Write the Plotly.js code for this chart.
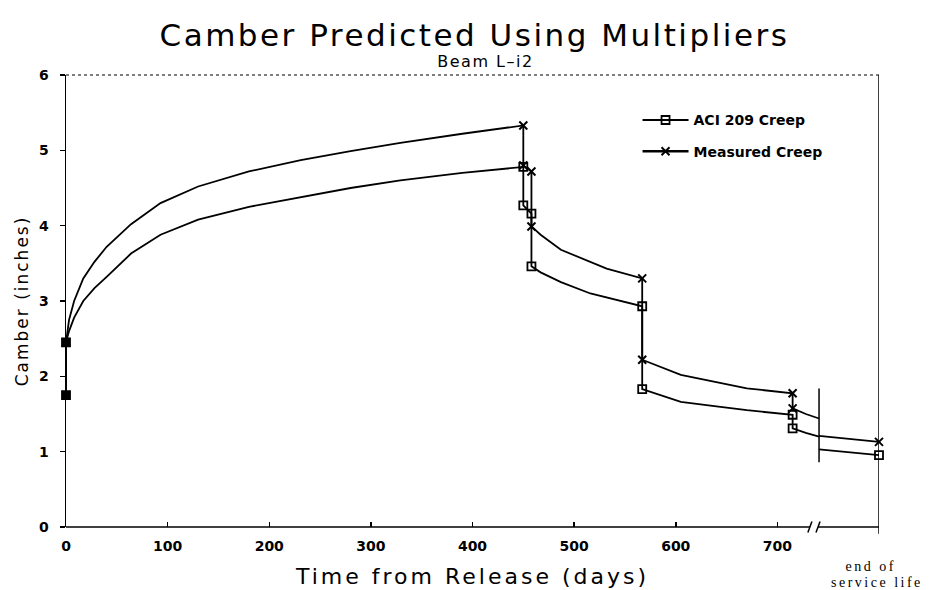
<!DOCTYPE html>
<html>
<head>
<meta charset="utf-8">
<script src="https://cdn.plot.ly/plotly-3.0.1.min.js"></script>
<style>html,body{margin:0;padding:0;background:#fff;}#chart{width:933px;height:590px;}</style>
</head>
<body>
<div id="chart"></div>
<script>
// ---- data (days from release, camber in inches) ----
const aciDays = [0,0,3,8,17,28,40,64,93,130,180,231,280,329,390,450,450,458,458,467,487,516,548,567,567,605,640,670,715,715,728,741,null,741,770,800];
const aciCamber = [1.75,2.45,2.6,2.78,3.0,3.17,3.32,3.63,3.88,4.08,4.25,4.38,4.50,4.60,4.70,4.78,4.27,4.16,3.46,3.38,3.25,3.10,2.99,2.93,1.83,1.66,1.60,1.55,1.49,1.31,1.25,1.20,null,1.03,0.99,0.955];
const measDays = [0,0,3,8,17,28,40,64,93,130,180,231,280,329,390,450,450,458,458,467,487,532,567,567,605,640,670,715,715,728,741,null,741,770,800];
const measCamber = [1.75,2.45,2.75,3.0,3.3,3.52,3.72,4.02,4.30,4.52,4.72,4.87,4.99,5.10,5.22,5.33,4.80,4.72,3.99,3.88,3.68,3.43,3.30,2.22,2.02,1.92,1.84,1.775,1.575,1.50,1.44,null,1.21,1.17,1.13];
// points where symbols are plotted
const aciMarkDays = [0,0,450,450,458,458,567,567,715,715,800];
const aciMarkCamber = [1.75,2.45,4.78,4.27,4.16,3.46,2.93,1.83,1.49,1.31,0.955];
const measMarkDays = [0,0,450,450,458,458,567,567,715,715,800];
const measMarkCamber = [1.75,2.45,5.33,4.80,4.72,3.99,3.30,2.22,1.775,1.575,1.13];
// axis
const xTickVals = [0,100,200,300,400,500,600,700];
const xTickText = ['0','100','200','300','400','500','600','700'];
const yTickVals = [0,1,2,3,4,5,6];
const endOfLifeDay = 800;
const breakDay = 741;
const breakSpan = [0.86,1.84];
const axisBreakDay = 736;
const seriesNames = ['ACI 209 Creep','Measured Creep'];
const titleText = 'Camber Predicted Using Multipliers';
const subtitleText = 'Beam L\u2013i2';
const endLabel = ['end of','service life'];

const LINE = {color:'#000', width:1.8};
const FONT = 'DejaVu Sans, sans-serif';
const traces = [
  {x:aciDays, y:aciCamber, mode:'lines', line:LINE, showlegend:false, connectgaps:false, cliponaxis:false, hoverinfo:'skip'},
  {x:measDays, y:measCamber, mode:'lines', line:LINE, showlegend:false, connectgaps:false, cliponaxis:false, hoverinfo:'skip'},
  {x:aciMarkDays, y:aciMarkCamber, mode:'markers', showlegend:false, cliponaxis:false,
   marker:{symbol:aciMarkDays.map(d=>d===0?'square':'square-open'), size:8, color:'#000', line:{color:'#000', width:1.8}}},
  {x:measMarkDays, y:measMarkCamber, mode:'markers', showlegend:false, cliponaxis:false,
   marker:{symbol:'x-thin', size:8, color:'#000', line:{color:'#000', width:2}}},
  {x:[null], y:[null], mode:'lines+markers', name:seriesNames[0], legendgroup:'a', line:LINE,
   marker:{symbol:'square-open', size:8, color:'#000', line:{color:'#000', width:1.8}}},
  {x:[null], y:[null], mode:'lines+markers', name:seriesNames[1], legendgroup:'b', line:{color:'#000', width:2.6},
   marker:{symbol:'x-thin', size:8, color:'#000', line:{color:'#000', width:2}}}
];

const layout = {
  width:933, height:590,
  margin:{l:66, r:54, t:75, b:63},
  paper_bgcolor:'#fff', plot_bgcolor:'#fff',
  font:{family:FONT, color:'#000'},
  xaxis:{range:[0,endOfLifeDay], tickvals:xTickVals, ticktext:xTickText, ticks:'inside', ticklen:5, tickwidth:1.5, tickcolor:'#000',
         showline:false, zeroline:false, showgrid:false, ticklabelstandoff:9,
         tickfont:{size:14, family:FONT, weight:'bold'},
         title:{text:'Time from Release (days)', font:{size:22, family:FONT}, standoff:15}},
  yaxis:{range:[0,6], tickvals:yTickVals, ticks:'outside', ticklen:5, tickwidth:1.5, tickcolor:'#000',
         showline:true, linecolor:'#000', linewidth:1.5, zeroline:false, showgrid:false, ticklabelstandoff:8,
         tickfont:{size:14, family:FONT, weight:'bold'},
         title:{text:'Camber (inches)', font:{size:17, family:FONT}, standoff:6}},
  legend:{x:0.703, xanchor:'left', y:0.935, yanchor:'top', bgcolor:'rgba(0,0,0,0)', itemwidth:46,
          font:{size:14, family:FONT, weight:'bold'}, traceorder:'grouped', tracegroupgap:10},
  shapes:[
    {type:'line', xref:'x', yref:'paper', x0:0, x1:axisBreakDay-4, y0:0, y1:0, line:{color:'#000', width:1.5}},
    {type:'line', xref:'x', yref:'paper', x0:axisBreakDay+4, x1:endOfLifeDay, y0:0, y1:0, line:{color:'#000', width:1.5}},
    {type:'line', xref:'x', yref:'paper', x0:axisBreakDay-6, x1:axisBreakDay-2, y0:-0.012, y1:0.012, line:{color:'#000', width:1.5}},
    {type:'line', xref:'x', yref:'paper', x0:axisBreakDay+2, x1:axisBreakDay+6, y0:-0.012, y1:0.012, line:{color:'#000', width:1.5}},
    {type:'line', xref:'paper', yref:'paper', x0:0, x1:1, y0:1, y1:1, line:{color:'#000', width:1, dash:'dot'}},
    {type:'line', xref:'x', yref:'paper', x0:endOfLifeDay, x1:endOfLifeDay, y0:-0.015, y1:1, line:{color:'#000', width:1.5}},
    {type:'line', xref:'x', yref:'y', x0:breakDay, x1:breakDay, y0:breakSpan[0], y1:breakSpan[1], line:{color:'#000', width:1.5}}
  ],
  annotations:[
    {text:titleText, xref:'paper', x:0.502, yref:'paper', y:1.088, xanchor:'center', yanchor:'middle', showarrow:false,
     font:{size:31, family:FONT}},
    {text:subtitleText, xref:'paper', x:0.516, yref:'paper', y:1.029, xanchor:'center', yanchor:'middle', showarrow:false,
     font:{size:16, family:FONT}},
    {text:endLabel[0], x:endOfLifeDay, xref:'x', y:-0.088, yref:'paper', yanchor:'middle', xanchor:'center', xshift:-8,
     showarrow:false, borderpad:0, font:{family:'Liberation Serif, serif', size:14}},
    {text:endLabel[1], x:endOfLifeDay, xref:'x', y:-0.122, yref:'paper', yanchor:'middle', xanchor:'center', xshift:-2,
     showarrow:false, borderpad:0, font:{family:'Liberation Serif, serif', size:14}}
  ]
};
Plotly.newPlot('chart', traces, layout, {displayModeBar:false, staticPlot:true}).then(function(gd){
  const spacing = {};
  spacing[titleText] = '2.5px';
  spacing[subtitleText] = '1.5px';
  spacing[endLabel[0]] = '2.5px';
  spacing[endLabel[1]] = '2.5px';
  spacing['Time from Release (days)'] = '3px';
  spacing['Camber (inches)'] = '2px';
  gd.querySelectorAll('text').forEach(function(t){
    const s = spacing[t.textContent];
    if (s) t.style.letterSpacing = s;
  });
});
</script>
</body>
</html>
